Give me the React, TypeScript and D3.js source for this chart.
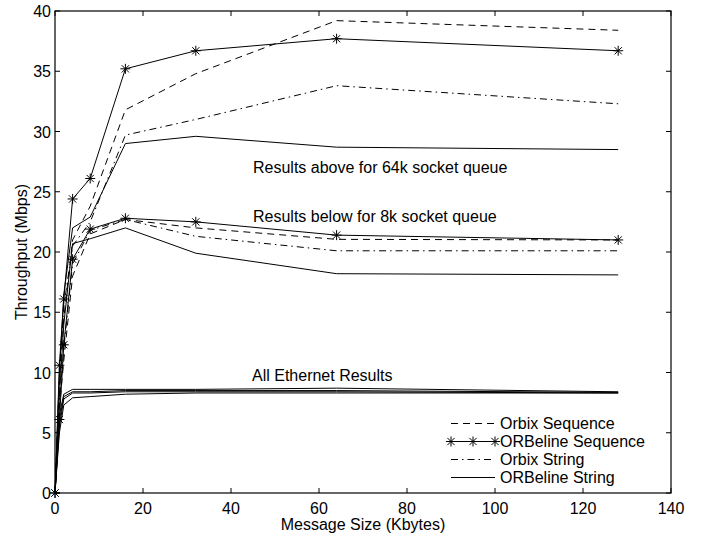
import React from 'react';
import * as d3 from 'd3';

// message sizes (Kbytes)
const sizes = [0, 1, 2, 4, 8, 16, 32, 64, 128];

// 64k socket queue
const orbixSeq64 = [0, 9.0, 14.5, 21.0, 23.8, 31.8, 34.8, 39.2, 38.4];
const orbelineSeq64 = [0, 10.6, 16.1, 24.4, 26.1, 35.2, 36.7, 37.7, 36.7];
const orbixStr64 = [0, 9.5, 15.5, 20.5, 22.5, 29.7, 31.0, 33.8, 32.3];
const orbelineStr64 = [0, 10.0, 16.5, 22.0, 22.9, 29.0, 29.6, 28.7, 28.5];

// 8k socket queue
const orbixSeq8 = [0, 7.0, 11.0, 18.0, 21.5, 22.7, 22.0, 21.05, 21.0];
const orbelineSeq8 = [0, 6.1, 12.3, 19.4, 21.9, 22.8, 22.5, 21.4, 21.0];
const orbixStr8 = [0, 7.5, 12.0, 19.0, 21.8, 22.7, 21.3, 20.1, 20.1];
const orbelineStr8 = [0, 8.0, 14.0, 20.7, 21.1, 22.0, 19.9, 18.2, 18.1];

// ethernet
const orbixSeqEth = [0, 6.5, 8.2, 8.6, 8.6, 8.6, 8.6, 8.7, 8.4];
const orbelineSeqEth = [0, 6.0, 8.0, 8.4, 8.4, 8.5, 8.5, 8.5, 8.35];
const orbixStrEth = [0, 5.5, 7.8, 8.3, 8.3, 8.4, 8.4, 8.4, 8.3];
const orbelineStrEth = [0, 5.0, 7.3, 7.9, 8.0, 8.2, 8.3, 8.3, 8.3];

const xTicks = [0, 20, 40, 60, 80, 100, 120, 140];
const yTicks = [0, 5, 10, 15, 20, 25, 30, 35, 40];

const legendNames = ['Orbix Sequence', 'ORBeline Sequence', 'Orbix String', 'ORBeline String'];

const DASH = '7,5';
const DASHDOT = '7,4,1.5,4';

const styles = [
  { dash: DASH, star: false },
  { dash: null, star: true },
  { dash: DASHDOT, star: false },
  { dash: null, star: false },
];

const groups = [
  [orbixSeq64, orbelineSeq64, orbixStr64, orbelineStr64],
  [orbixSeq8, orbelineSeq8, orbixStr8, orbelineStr8],
  [orbixSeqEth, orbelineSeqEth, orbixStrEth, orbelineStrEth],
];

const Star = ({ x, y }: { x: number; y: number }) => {
  const r = 5;
  const d = r * 0.72;
  return (
    <path
      d={`M${x},${y - r}L${x},${y + r}M${x - r},${y}L${x + r},${y}M${x - d},${y - d}L${x + d},${y + d}M${x - d},${y + d}L${x + d},${y - d}`}
      stroke="#000"
      strokeWidth={1}
      fill="none"
    />
  );
};

const App = () => {
  const width = 701;
  const height = 537;
  const left = 55, right = 671, top = 11, bottom = 493;

  const x = d3.scaleLinear().domain([0, 140]).range([left, right]);
  const y = d3.scaleLinear().domain([0, 40]).range([bottom, top]);

  const line = d3.line<number>()
    .x((d, i) => x(sizes[i]))
    .y(d => y(d));

  const font = 'Liberation Sans, Arial, Helvetica, sans-serif';
  const fs = 16;

  return (
    <svg width={width} height={height} style={{ position: 'absolute', left: 0, top: 0, background: '#fff' }}
      fontFamily={font}>
      {/* series; ethernet lines drawn plain */}
      {groups.map((g, gi) => g.map((vals, si) => (
        <g key={`${gi}-${si}`}>
          <path d={line(vals) || ''} fill="none" stroke="#000" strokeWidth={1}
            strokeDasharray={gi < 2 ? (styles[si].dash || undefined) : undefined} />
          {styles[si].star && gi < 2 && vals.map((v, i) => <Star key={i} x={x(sizes[i])} y={y(v)} />)}
        </g>
      )))}

      {/* box */}
      <rect x={left} y={top} width={right - left} height={bottom - top} fill="none" stroke="#000" strokeWidth={1.2} />

      {/* x ticks */}
      {xTicks.map(t => (
        <g key={`x${t}`}>
          <line x1={x(t)} x2={x(t)} y1={bottom} y2={bottom - 5} stroke="#000" />
          <line x1={x(t)} x2={x(t)} y1={top} y2={top + 5} stroke="#000" />
          <text x={x(t)} y={bottom + 21} fontSize={fs} textAnchor="middle">{t}</text>
        </g>
      ))}
      {/* y ticks */}
      {yTicks.map(t => (
        <g key={`y${t}`}>
          <line x1={left} x2={left + 5} y1={y(t)} y2={y(t)} stroke="#000" />
          <line x1={right} x2={right - 5} y1={y(t)} y2={y(t)} stroke="#000" />
          <text x={left - 4} y={y(t) + 6} fontSize={fs} textAnchor="end">{t}</text>
        </g>
      ))}

      <text x={(left + right) / 2} y={530} fontSize={fs} textAnchor="middle">Message Size (Kbytes)</text>
      <text transform={`translate(27,${(top + bottom) / 2}) rotate(-90)`} fontSize={fs} textAnchor="middle">Throughput (Mbps)</text>

      <text x={253} y={173} fontSize={fs}>Results above for 64k socket queue</text>
      <text x={253} y={222} fontSize={fs}>Results below for 8k socket queue</text>
      <text x={252} y={381} fontSize={fs}>All Ethernet Results</text>

      {/* legend */}
      {legendNames.map((name, i) => {
        const ly = 423.5 + i * 18;
        return (
          <g key={name}>
            <line x1={451} x2={495} y1={ly} y2={ly} stroke="#000" strokeWidth={1}
              strokeDasharray={styles[i].dash || undefined} />
            {styles[i].star && [451, 473, 495].map(sx => <Star key={sx} x={sx} y={ly} />)}
            <text x={500} y={ly + 5.5} fontSize={fs}>{name}</text>
          </g>
        );
      })}
    </svg>
  );
};

export default App;
